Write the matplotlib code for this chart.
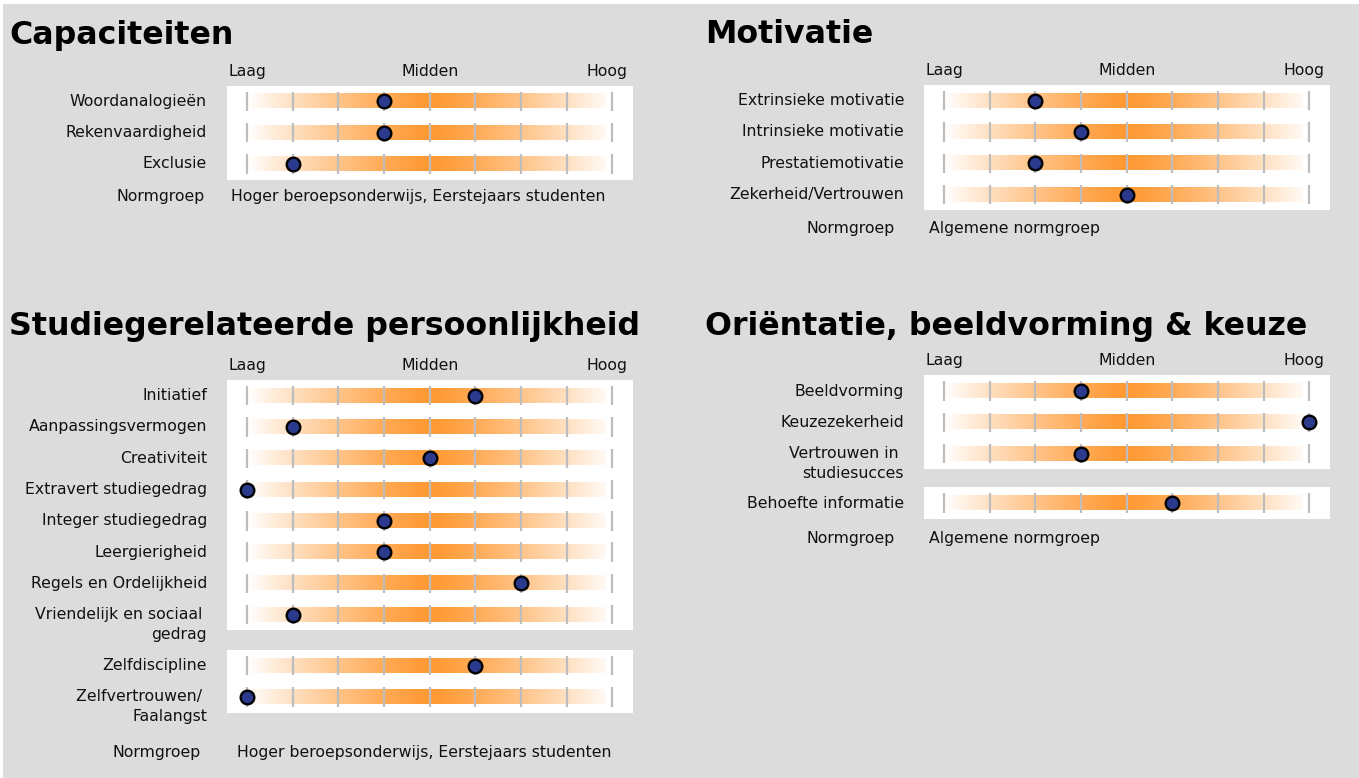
import numpy as np
import matplotlib
matplotlib.use("Agg")
import matplotlib.pyplot as plt
from matplotlib.colors import to_rgb
from matplotlib.patches import Rectangle

# canvas in pixels
W, H = 1359, 778
DPI = 100
PX = 72 / DPI  # points per pixel

BG = "#dcdcdc"
ORANGE = "#ff9933"
DOT = "#2b3a8c"
TICK = "#bdbdbd"
FS = 11.3

SCALE_TICKS = list(range(1, 10))
SCALE_NAMES = ["Laag", "Midden", "Hoog"]
SCALE_NAME_POS = [1, 5, 8.88]

# --- data -------------------------------------------------------------
cap_labels = ["Woordanalogieën", "Rekenvaardigheid", "Exclusie"]
cap_scores = [4, 4, 2]
cap_groups = [3]
cap_norm = "Hoger beroepsonderwijs, Eerstejaars studenten"

mot_labels = ["Extrinsieke motivatie", "Intrinsieke motivatie",
              "Prestatiemotivatie", "Zekerheid/Vertrouwen"]
mot_scores = [3, 4, 3, 5]
mot_groups = [4]
mot_norm = "Algemene normgroep"

stud_labels = ["Initiatief", "Aanpassingsvermogen", "Creativiteit",
               "Extravert studiegedrag", "Integer studiegedrag", "Leergierigheid",
               "Regels en Ordelijkheid", "Vriendelijk en sociaal \ngedrag",
               "Zelfdiscipline", "Zelfvertrouwen/ \nFaalangst"]
stud_scores = [6, 2, 5, 1, 4, 4, 7, 2, 6, 1]
stud_groups = [8, 2]
stud_norm = "Hoger beroepsonderwijs, Eerstejaars studenten"

ori_labels = ["Beeldvorming", "Keuzezekerheid", "Vertrouwen in \nstudiesucces",
              "Behoefte informatie"]
ori_scores = [4, 9, 4, 6]
ori_groups = [3, 1]
ori_norm = "Algemene normgroep"

# --- layout (pixels) ---------------------------------------------------
ROW_H = 31.3
BOX_W = 406

panels = [
    dict(title="Capaciteiten", tx=9, ty=44, bx=227, box_tops=[85.7],
         labels=cap_labels, scores=cap_scores, groups=cap_groups,
         norm=cap_norm, ny=196, nr=205, nv=231),
    dict(title="Motivatie", tx=705, ty=43, bx=924, box_tops=[85.0],
         labels=mot_labels, scores=mot_scores, groups=mot_groups,
         norm=mot_norm, ny=229, nr=895, nv=929),
    dict(title="Studiegerelateerde persoonlijkheid", tx=9, ty=335, bx=227,
         box_tops=[380.0, 650.0],
         labels=stud_labels, scores=stud_scores, groups=stud_groups,
         norm=stud_norm, ny=753, nr=201, nv=237),
    dict(title="Oriëntatie, beeldvorming & keuze", tx=705, ty=335, bx=924,
         box_tops=[375.4, 487.4],
         labels=ori_labels, scores=ori_scores, groups=ori_groups,
         norm=ori_norm, ny=539, nr=895, nv=929),
]


def px_axes(fig, x, y, w, h):
    return fig.add_axes([x / W, 1 - (y + h) / H, w / W, h / H])


def gradient():
    t = np.linspace(1, 8.85, 400)
    alpha = 1 - (np.abs(t - 5) / 4) ** 1.25
    alpha = np.clip(alpha, 0, 1)
    rgb = np.array(to_rgb(ORANGE))
    img = 1 - alpha[:, None] * (1 - rgb)
    return img[None, :, :]


GRAD = gradient()


def draw_box(fig, x, y, labels, scores, header):
    n = len(labels)
    ax = px_axes(fig, x, y, BOX_W, n * ROW_H)
    ax.set_facecolor("white")
    for s in ax.spines.values():
        s.set_visible(False)
    ax.set_xticks([])
    ax.set_yticks([])

    for i, (lab, sc) in enumerate(zip(labels, scores)):
        ax.imshow(GRAD, extent=(1, 8.85, i + 0.225, i - 0.225), aspect="auto",
                  interpolation="bilinear", zorder=1)
        ax.vlines(SCALE_TICKS, i - 0.31, i + 0.31, color=TICK, lw=1.6, zorder=2)
        ax.plot(sc, i, "o", ms=9.8, mfc=DOT, mec="black", mew=1.7, zorder=3,
                clip_on=False)
        for k, line in enumerate(lab.split("\n")):
            ax.annotate(line, xy=(0, i), xycoords=("axes fraction", "data"),
                        xytext=(-20 * PX, -k * 20 * PX), textcoords="offset points",
                        ha="right", va="center", fontsize=FS, color="#111111")

    if header:
        for name, pos in zip(SCALE_NAMES, SCALE_NAME_POS):
            ax.annotate(name, xy=(pos, 1), xycoords=("data", "axes fraction"),
                        xytext=(0, 14.5 * PX), textcoords="offset points",
                        ha="center", va="center", fontsize=FS, color="#111111")

    ax.set_xlim(0.56, 9.45)
    ax.set_ylim(n - 0.5, -0.5)
    return ax


fig = plt.figure(figsize=(W / DPI, H / DPI), dpi=DPI)
fig.patch.set_facecolor("white")
fig.add_artist(Rectangle((3 / W, 0), 1, 1 - 4 / H, transform=fig.transFigure,
                         facecolor=BG, edgecolor="none", zorder=0))

for p in panels:
    fig.text(p["tx"] / W, 1 - p["ty"] / H, p["title"], fontsize=22.8,
             fontweight="bold", va="baseline", ha="left", color="black")
    start = 0
    for g, top in zip(p["groups"], p["box_tops"]):
        draw_box(fig, p["bx"], top, p["labels"][start:start + g],
                 p["scores"][start:start + g], header=(start == 0))
        start += g
    fig.text(p["nr"] / W, 1 - p["ny"] / H, "Normgroep", ha="right",
             va="center", fontsize=FS, color="#111111")
    fig.text(p["nv"] / W, 1 - p["ny"] / H, p["norm"], ha="left",
             va="center", fontsize=FS, color="#111111")

fig.savefig("out.png", dpi=DPI)
